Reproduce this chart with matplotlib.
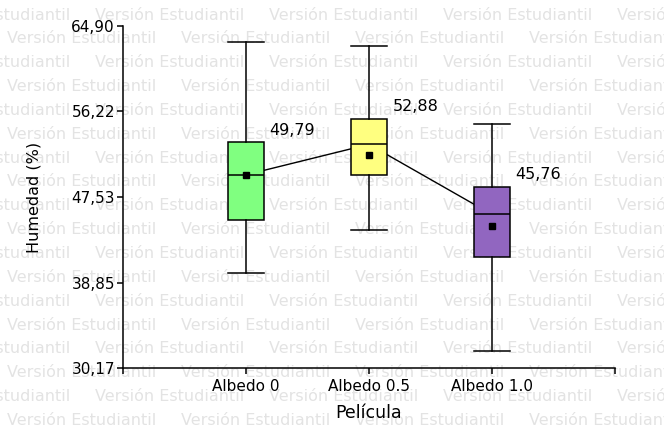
import matplotlib.pyplot as plt

# Humedad por tipo de película (valores del boxplot)
peliculas = ["Albedo 0", "Albedo 0.5", "Albedo 1.0"]
minimos = [39.85, 44.15, 31.90]
q1 = [45.20, 49.77, 41.47]
medianas = [49.79, 52.88, 45.76]
q3 = [53.12, 55.46, 48.58]
maximos = [63.28, 62.90, 54.95]
medias = [49.75, 51.77, 44.59]
colores = ["#80ff80", "#ffff80", "#9166c0"]

y_ticks = [30.17, 38.85, 47.53, 56.22, 64.90]

W, H = 664, 428
fig = plt.figure(figsize=(W / 100, H / 100), dpi=100)
fig.patch.set_facecolor("white")

# marca de agua de la version estudiantil
marca = "Versión Estudiantil"
for i in range(18):
    y = 15 + 23.85 * i
    x0 = 95 - 174 if i % 2 == 0 else 7
    x = x0
    while x < W:
        fig.text(x / W, 1 - y / H, marca, fontsize=11.5, color="#e3e3e3",
                 ha="left", va="center", zorder=-1)
        x += 174

ax = fig.add_axes([123 / W, 1 - 368 / H, (615 - 123) / W, (368 - 26) / H])
ax.patch.set_alpha(0)

pos = [1, 2, 3]
stats = []
for k in range(len(peliculas)):
    stats.append(dict(whislo=minimos[k], q1=q1[k], med=medianas[k], q3=q3[k],
                      whishi=maximos[k], mean=medias[k], fliers=[]))

# linea que une las medianas, por detras de las cajas
ax.plot(pos, medianas, color="black", lw=1.0, zorder=1)

bp = ax.bxp(stats, positions=pos, widths=0.3, capwidths=0.3, patch_artist=True,
            showmeans=True, manage_ticks=False,
            boxprops=dict(edgecolor="black", linewidth=1.1),
            medianprops=dict(color="black", linewidth=1.1),
            whiskerprops=dict(color="black", linewidth=1.1),
            capprops=dict(color="black", linewidth=1.1),
            meanprops=dict(marker="s", markersize=5, markerfacecolor="black",
                           markeredgecolor="black"))
for caja, c in zip(bp["boxes"], colores):
    caja.set_facecolor(c)
    caja.set_zorder(2)

for p, m, top in zip(pos, medianas, q3):
    ax.annotate(f"{m:.2f}".replace(".", ","), xy=(p + 0.15, top),
                xytext=(5, 12), textcoords="offset pixels",
                ha="left", va="center", fontsize=11.5)

ax.set_xlim(0, 4)
ax.set_ylim(y_ticks[0], y_ticks[-1])
ax.set_yticks(y_ticks)
ax.set_yticklabels([f"{v:.2f}".replace(".", ",") for v in y_ticks])
ax.set_xticks([0, 1, 2, 3, 4])
ax.set_xticklabels([""] + peliculas + [""])
ax.tick_params(axis="both", direction="out", length=4.3, width=1.1,
               labelsize=11, pad=1.5, colors="black")
ax.tick_params(axis="x", pad=3.5)

for lado in ["top", "right"]:
    ax.spines[lado].set_visible(False)
for lado in ["left", "bottom"]:
    ax.spines[lado].set_linewidth(1.1)

ax.set_xlabel("Película", fontsize=12.5, labelpad=7)
ax.set_ylabel("Humedad (%)", fontsize=11.5)
ax.yaxis.set_label_coords(-0.165, 0.5)

fig.savefig("out.png", dpi=100)
